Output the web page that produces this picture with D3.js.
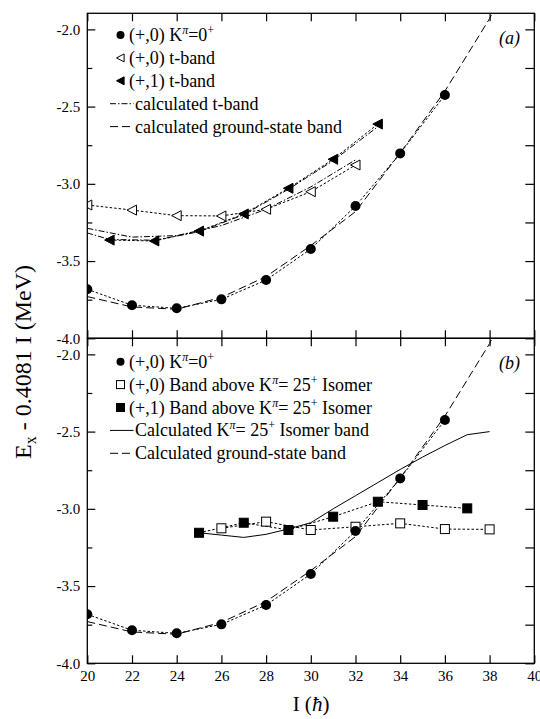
<!DOCTYPE html>
<html>
<head>
<meta charset="utf-8">
<script src="https://cdn.jsdelivr.net/npm/d3@7"></script>
<style>
    body { margin: 0; background: #fff; }
    svg { display: block; font-family: "Liberation Serif", "Times New Roman", serif; }
</style>
</head>
<body>
<svg id="chart" width="540" height="719"></svg>
<script>
// Spin values (hbar) and E_x - 0.4081 I (MeV)
const gsSpin = [20, 22, 24, 26, 28, 30, 32, 34, 36];
const gsExp = [-3.683, -3.786, -3.806, -3.748, -3.623, -3.422, -3.144, -2.803, -2.425];

const gsCalcSpin = [20, 22, 24, 26, 28, 30, 32, 34, 36, 38, 40];
const gsCalc = [-3.73, -3.797, -3.812, -3.735, -3.60, -3.40, -3.18, -2.80, -2.40, -1.93, -1.35];

// (a) t-bands
const tb0Spin = [20, 22, 24, 26, 28, 30, 32];
const tb0Exp = [-3.137, -3.170, -3.206, -3.208, -3.165, -3.051, -2.878];
const tb1Spin = [21, 23, 25, 27, 29, 31, 33];
const tb1Exp = [-3.364, -3.370, -3.306, -3.195, -3.029, -2.841, -2.613];

const tCalcEvenSpin = [20, 22, 24, 26, 28, 30, 32];
const tCalcEven = [-3.288, -3.345, -3.335, -3.27, -3.165, -3.02, -2.845];
const tCalcOddSpin = [19, 21, 23, 25, 27, 29, 31, 33];
const tCalcOdd = [-3.276, -3.36, -3.365, -3.31, -3.20, -3.035, -2.85, -2.63];

// (b) bands above the 25+ isomer
const b0Spin = [26, 28, 30, 32, 34, 36, 38];
const b0Exp = [-3.126, -3.083, -3.137, -3.116, -3.094, -3.131, -3.133];
const b1Spin = [25, 27, 29, 31, 33, 35, 37];
const b1Exp = [-3.155, -3.090, -3.137, -3.051, -2.954, -2.975, -2.997];

const isoCalcSpin = [25, 26, 27, 28, 29, 30, 31, 32, 33, 34, 35, 36, 37, 38];
const isoCalc = [-3.155, -3.17, -3.185, -3.165, -3.13, -3.09, -3.00, -2.915, -2.83, -2.745, -2.665, -2.59, -2.52, -2.50];

const xTicks = [20, 22, 24, 26, 28, 30, 32, 34, 36, 38, 40];
const yMajor = [-4.0, -3.5, -3.0, -2.5, -2.0];
const yMinor = [-3.75, -3.25, -2.75, -2.25];
const yRight = [-4.0, -3.75, -3.5, -3.25, -3.0, -2.75, -2.5, -2.25, -2.0];

const L = 87.3, R = 534.3, T = 13.3, M = 338.3, B = 663.3;

const svg = d3.select('#chart');
const x = d3.scaleLinear().domain([20, 40]).range([L, R]);
const yTop = d3.scaleLinear().domain([-4, -1.896]).range([M, T]);
const yBot = d3.scaleLinear().domain([-4, -1.896]).range([B, M]);

const zip = (a, b) => a.map((v, i) => [v, b[i]]);

function clip(id, y0, y1) {
    svg.append('clipPath').attr('id', id)
        .append('rect').attr('x', L).attr('y', y0).attr('width', R - L).attr('height', y1 - y0);
}
clip('clipA', T, M);
clip('clipB', M, B);

function drawLine(g, y, data, dash, width) {
    const line = d3.line().x(d => x(d[0])).y(d => y(d[1]));
    g.append('path')
        .attr('d', line(data))
        .attr('fill', 'none')
        .attr('stroke', '#000')
        .attr('stroke-width', width || 1)
        .attr('stroke-dasharray', dash);
}

function marker(g, type, cx, cy, s) {
    if (type === 'circle') {
        g.append('circle').attr('cx', cx).attr('cy', cy).attr('r', s).attr('fill', '#000');
    } else if (type === 'squareOpen' || type === 'squareFilled') {
        g.append('rect').attr('x', cx - s).attr('y', cy - s).attr('width', 2 * s).attr('height', 2 * s)
            .attr('fill', type === 'squareOpen' ? '#fff' : '#000')
            .attr('stroke', '#000').attr('stroke-width', 1);
    } else {
        const pts = [[cx - s, cy], [cx + s * 0.9, cy - s], [cx + s * 0.9, cy + s]];
        g.append('polygon').attr('points', pts.map(p => p.join(',')).join(' '))
            .attr('fill', type === 'triOpen' ? '#fff' : '#000')
            .attr('stroke', '#000').attr('stroke-width', 1);
    }
}

function drawPoints(g, y, spins, vals, type, s) {
    spins.forEach((sp, i) => marker(g, type, x(sp), y(vals[i]), s));
}

function axes(y, y0, y1) {
    const g = svg.append('g');
    // left major with labels
    g.append('g').attr('transform', `translate(${L},0)`)
        .call(d3.axisLeft(y).tickValues(yMajor).tickSize(-8).tickSizeOuter(0).tickPadding(7)
            .tickFormat(d => d.toFixed(1)));
    g.append('g').attr('transform', `translate(${L},0)`)
        .call(d3.axisLeft(y).tickValues(yMinor).tickSize(-5).tickSizeOuter(0).tickFormat(''));
    g.append('g').attr('transform', `translate(${R},0)`)
        .call(d3.axisRight(y).tickValues(yRight).tickSize(-9).tickSizeOuter(0).tickFormat(''));
    // top ticks (inward) and bottom ticks (inward)
    g.append('g').attr('transform', `translate(0,${y0})`)
        .call(d3.axisTop(x).tickValues(xTicks).tickSize(-8).tickSizeOuter(0).tickFormat(''));
    g.append('g').attr('transform', `translate(0,${y1})`)
        .call(d3.axisBottom(x).tickValues(xTicks).tickSize(-8).tickSizeOuter(0).tickFormat(''));
    g.selectAll('.domain').remove();
    g.selectAll('.tick line').attr('stroke', '#000').attr('stroke-width', 1.2);
    g.selectAll('.tick text').attr('font-size', 15).attr('font-family', '"Liberation Serif", serif').attr('fill', '#000');
    g.append('rect').attr('x', L).attr('y', y0).attr('width', R - L).attr('height', y1 - y0)
        .attr('fill', 'none').attr('stroke', '#000').attr('stroke-width', 1.3);
}

// legend helper: parts are [text, 'sup' | 'supi' | undefined]
function legendText(g, tx, ty, parts) {
    const t = g.append('text').attr('x', tx).attr('y', ty).attr('font-size', 18);
    let shifted = false;
    parts.forEach(p => {
        const ts = t.append('tspan').text(p[0]);
        if (p[1]) {
            ts.attr('font-size', 12).attr('dy', shifted ? 0 : -7);
            if (p[1] === 'supi') ts.attr('font-style', 'italic');
            shifted = true;
        } else if (shifted) {
            ts.attr('dy', 7);
            shifted = false;
        }
    });
}

function legend(g, y0, items) {
    items.forEach((it, i) => {
        const cy = y0 + i * 22.9;
        if (it.marker) {
            marker(g, it.marker, 120.5, cy, 4);
            legendText(g, 129, cy + 6, it.text);
        } else {
            g.append('line').attr('x1', 110).attr('x2', 133.5).attr('y1', cy).attr('y2', cy)
                .attr('stroke', '#000').attr('stroke-width', 1).attr('stroke-dasharray', it.dash);
            legendText(g, 135, cy + 6, it.text);
        }
    });
}

const dotted = '2.5,2';
const dashDot = '6,2,1.5,2';
const dashed = '8,4';

// ---- panel (a)
const ga = svg.append('g').attr('clip-path', 'url(#clipA)');
drawLine(ga, yTop, zip(gsCalcSpin, gsCalc), dashed);
drawLine(ga, yTop, zip(tCalcEvenSpin, tCalcEven), dashDot);
drawLine(ga, yTop, zip(tCalcOddSpin, tCalcOdd), dashDot);
drawLine(ga, yTop, zip(gsSpin, gsExp), dotted);
drawLine(ga, yTop, zip(tb0Spin, tb0Exp), dotted);
drawLine(ga, yTop, zip(tb1Spin, tb1Exp), dotted);
drawPoints(ga, yTop, tb0Spin, tb0Exp, 'triOpen', 5);
drawPoints(ga, yTop, tb1Spin, tb1Exp, 'triFilled', 5);
drawPoints(ga, yTop, gsSpin, gsExp, 'circle', 5);

// ---- panel (b)
const gb = svg.append('g').attr('clip-path', 'url(#clipB)');
drawLine(gb, yBot, zip(gsCalcSpin, gsCalc), dashed);
drawLine(gb, yBot, zip(isoCalcSpin, isoCalc), null);
drawLine(gb, yBot, zip(gsSpin, gsExp), dotted);
drawLine(gb, yBot, zip(b0Spin, b0Exp), dotted);
drawLine(gb, yBot, zip(b1Spin, b1Exp), dotted);
drawPoints(gb, yBot, b0Spin, b0Exp, 'squareOpen', 4.5);
drawPoints(gb, yBot, b1Spin, b1Exp, 'squareFilled', 4.5);
drawPoints(gb, yBot, gsSpin, gsExp, 'circle', 5);

axes(yTop, T, M);
axes(yBot, M, B);

// x tick labels under panel (b)
const xl = svg.append('g').attr('transform', `translate(0,${B})`)
    .call(d3.axisBottom(x).tickValues(xTicks).tickSize(0).tickPadding(7));
xl.select('.domain').remove();
xl.selectAll('text').attr('font-size', 15).attr('font-family', '"Liberation Serif", serif').attr('fill', '#000');

// legends
const lg = svg.append('g');
legend(lg, 35, [
    { marker: 'circle', text: [['(+,0) K'], ['π', 'supi'], ['=0'], ['+', 'sup']] },
    { marker: 'triOpen', text: [['(+,0) t-band']] },
    { marker: 'triFilled', text: [['(+,1) t-band']] },
    { dash: dashDot, text: [['calculated t-band']] },
    { dash: dashed, text: [['calculated ground-state band']] }
]);
legend(lg, 361.7, [
    { marker: 'circle', text: [['(+,0) K'], ['π', 'supi'], ['=0'], ['+', 'sup']] },
    { marker: 'squareOpen', text: [['(+,0) Band above K'], ['π', 'supi'], ['= 25'], ['+', 'sup'], [' Isomer']] },
    { marker: 'squareFilled', text: [['(+,1) Band above K'], ['π', 'supi'], ['= 25'], ['+', 'sup'], [' Isomer']] },
    { dash: null, text: [['Calculated K'], ['π', 'supi'], ['= 25'], ['+', 'sup'], [' Isomer band']] },
    { dash: dashed, text: [['Calculated ground-state band']] }
]);

// panel letters
svg.append('text').attr('x', 520).attr('y', 44).attr('text-anchor', 'end')
    .attr('font-size', 18).attr('font-style', 'italic').text('(a)');
svg.append('text').attr('x', 520).attr('y', 369).attr('text-anchor', 'end')
    .attr('font-size', 18).attr('font-style', 'italic').text('(b)');

// axis titles
const yt = svg.append('text').attr('transform', 'translate(31,362) rotate(-90)')
    .attr('text-anchor', 'middle').attr('font-size', 24);
yt.append('tspan').text('E');
yt.append('tspan').attr('font-size', 16).attr('dy', 5).text('x');
yt.append('tspan').attr('dy', -5).text(' - 0.4081 I (MeV)');

const xt = svg.append('text').attr('x', 311).attr('y', 711).attr('text-anchor', 'middle').attr('font-size', 21);
xt.append('tspan').text('I  (');
xt.append('tspan').attr('font-style', 'italic').text('ħ');
xt.append('tspan').text(')');
</script>
</body>
</html>
